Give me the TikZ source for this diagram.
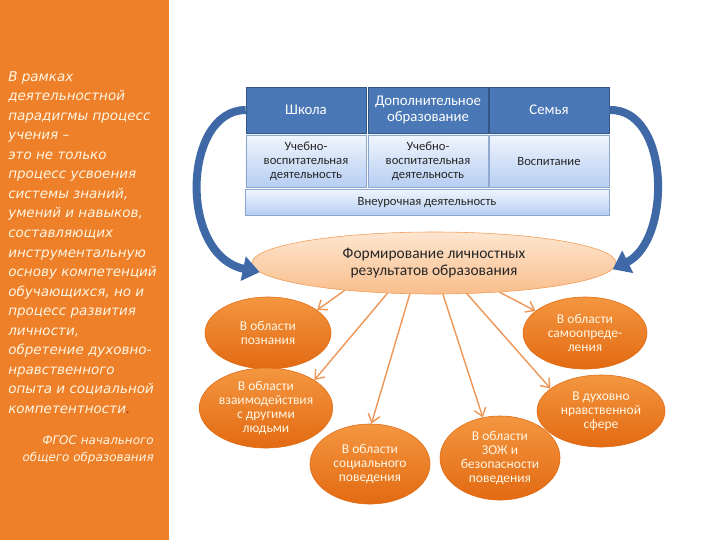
\documentclass[tikz,border=0pt]{standalone}
\usepackage{fontspec}
\setmainfont{Carlito}
\newfontfamily\notefont{DejaVu Sans}
\usetikzlibrary{shapes.geometric,arrows.meta}

\definecolor{panelorange}{RGB}{238,128,42}
\definecolor{headblue}{RGB}{74,120,182}
\definecolor{headedge}{RGB}{52,86,135}
\definecolor{rowtop}{RGB}{240,245,253}
\definecolor{rowbottom}{RGB}{182,206,242}
\definecolor{rowedge}{RGB}{140,165,205}
\definecolor{peachtop}{RGB}{253,230,208}
\definecolor{peachbottom}{RGB}{249,190,140}
\definecolor{peachedge}{RGB}{240,155,85}
\definecolor{balltop}{RGB}{244,150,64}
\definecolor{ballbottom}{RGB}{226,106,18}
\definecolor{feedorange}{RGB}{238,150,85}
\definecolor{bendblue}{RGB}{62,104,166}
\definecolor{creamtext}{RGB}{255,246,228}
\definecolor{dotred}{RGB}{150,40,20}

\begin{document}
\begin{tikzpicture}[
  x=0.025cm, y=-0.025cm,
  headbox/.style={rectangle, draw=headedge, fill=headblue, text=white, minimum width=3cm, minimum height=1.15cm, align=center, inner sep=1pt, font=\fontsize{10.5}{11.5}\selectfont},
  workbox/.style={rectangle, draw=rowedge, top color=rowtop, bottom color=rowbottom, text=black!85, minimum width=3cm, minimum height=1.3cm, align=center, inner sep=1pt, font=\fontsize{9}{10}\selectfont},
  outcome/.style={ellipse, draw=ballbottom, top color=balltop, bottom color=ballbottom, text=creamtext, align=center, inner sep=0pt, font=\fontsize{9.6}{10}\selectfont},
  feed/.style={feedorange, line width=1pt, -{Straight Barb[length=0.2cm,width=0.3cm]}},
  bendarrow/.style={bendblue, line width=0.2cm, -{Triangle[length=0.42cm,width=0.6cm]}}
]
\useasboundingbox (0,0) rectangle (720,540);
\fill[white] (0,0) rectangle (720,540);

% Left panel
\fill[panelorange] (0,0) rectangle (169,540);
\node[anchor=north west, align=left, inner sep=0pt, text=creamtext, font=\notefont\fontsize{9.6}{13.9}\itshape\selectfont] (paradigm) at (8,71) {В рамках\\ деятельностной\\ парадигмы процесс\\ учения –\\ это не только\\ процесс усвоения\\ системы знаний,\\ умений и навыков,\\ составляющих\\ инструментальную\\ основу компетенций\\ обучающихся, но и\\ процесс развития\\ личности,\\ обретение духовно-\\ нравственного\\ опыта и социальной\\ компетентности{\color{dotred}.}};
\node[anchor=north east, align=right, inner sep=0pt, text=creamtext, font=\notefont\fontsize{8.5}{12}\itshape\selectfont] (fgos) at (154,435) {ФГОС начального\\ общего образования};

% Sources table
\node[headbox] (school_head) at (306,110) {Школа};
\node[headbox] (extra_head) at (428,110) {Дополнительное\\ образование};
\node[headbox] (family_head) at (549,110) {Семья};
\node[workbox] (school_work) at (306,161) {Учебно-\\ воспитательная\\ деятельность};
\node[workbox] (extra_work) at (428,161) {Учебно-\\ воспитательная\\ деятельность};
\node[workbox] (family_work) at (549,161) {Воспитание};
\node[workbox, minimum width=9.1cm, minimum height=0.65cm] (outclass) at (427,202) {Внеурочная деятельность};

% Goal
\node[ellipse, draw=peachedge, top color=peachtop, bottom color=peachbottom, minimum width=9.1cm, minimum height=1.55cm, inner sep=0pt, align=center, text=black!85, font=\fontsize{11}{12}\selectfont] (goal) at (434,263) {Формирование личностных\\ результатов образования};
\draw[bendarrow] (school_head.west) .. controls (183,110) and (178,255) .. (goal.183);
\draw[bendarrow] (family_head.east) .. controls (670,108) and (672,240) .. (goal.358);

% Outcome areas
\node[outcome, minimum width=3.15cm, minimum height=1.8cm] (cognition) at (268,333) {В области\\ познания};
\node[outcome, minimum width=3.1cm, minimum height=2cm] (relations) at (266,408) {В области\\ взаимодействия\\ с другими\\ людьми};
\node[outcome, minimum width=3cm, minimum height=2cm] (social) at (370,464) {В области\\ социального\\ поведения};
\node[outcome, minimum width=3cm, minimum height=2.1cm] (health) at (500,458) {В области\\ ЗОЖ и\\ безопасности\\ поведения};
\node[outcome, minimum width=3.1cm, minimum height=1.8cm] (selfdef) at (585,333) {В области\\ самоопреде-\\ ления};
\node[outcome, minimum width=3.2cm, minimum height=1.8cm] (moral) at (601,411) {В духовно\\ нравственной\\ сфере};

\draw[feed] (goal.197) -- (cognition.25);
\draw[feed] (goal.213) -- (relations.30);
\draw[feed] (goal.232) -- (social.88);
\draw[feed] (goal.286) -- (health.113);
\draw[feed] (goal.317) -- (moral.156);
\draw[feed] (goal.336) -- (selfdef.156);

\end{tikzpicture}
\end{document}
